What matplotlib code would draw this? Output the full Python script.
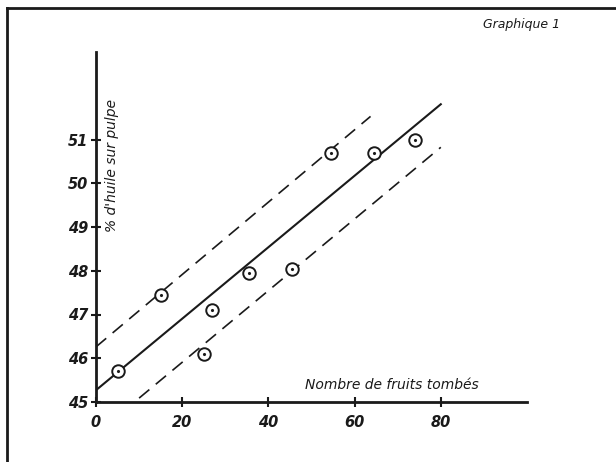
import matplotlib.pyplot as plt
from matplotlib.lines import Line2D

# observations: fallen fruits vs % oil in pulp
fruits = [5, 15, 25, 27, 35.5, 45.5, 54.5, 64.5, 74]
oil = [45.7, 47.45, 46.1, 47.1, 47.95, 48.05, 50.7, 50.7, 51.0]

# fitted line and band: (intercept, slope, x start, x end)
fit = [45.27, 0.0817, 0, 80]
upper = [46.26, 0.0827, 0, 63.7]
lower = [44.27, 0.0819, 10, 80]

xticks = [0, 20, 40, 60, 80]
yticks = [45, 46, 47, 48, 49, 50, 51]

ink = "#1a1a1a"
fig = plt.figure(figsize=(6.16, 4.62), dpi=100)
ax = fig.add_axes([96 / 616, 60 / 462, 431 / 616, 350 / 462])
ax.set_xlim(0, 100)
ax.set_ylim(45, 53)

def seg(p, **kw):
    a, b, x0, x1 = p
    ax.plot([x0, x1], [a + b * x0, a + b * x1], color=ink, **kw)

seg(fit, lw=1.5)
seg(upper, lw=1.2, ls=(0, (8, 5)))
seg(lower, lw=1.2, ls=(0, (8, 5)))

ax.plot(fruits, oil, "o", ms=9, mfc="white", mec=ink, mew=1.4, zorder=3)
ax.plot(fruits, oil, ".", ms=2.5, color=ink, zorder=4)

for s in ["top", "right"]:
    ax.spines[s].set_visible(False)
for s in ["left", "bottom"]:
    ax.spines[s].set_linewidth(2)
    ax.spines[s].set_color(ink)

ax.set_xticks(xticks)
ax.set_yticks(yticks)
ax.tick_params(direction="inout", length=7, width=1.5, color=ink)
ax.tick_params(axis="x", pad=6)
ax.tick_params(axis="y", pad=2)
for lab in ax.get_xticklabels() + ax.get_yticklabels():
    lab.set_fontstyle("italic")
    lab.set_fontweight("bold")
    lab.set_fontsize(10.5)
    lab.set_color(ink)

ax.text(48.5, 45.22, "Nombre de fruits tombés", style="italic", fontsize=10,
        color=ink, ha="left", va="bottom")
ax.text(3.6, 50.4, "% d'huile sur pulpe", style="italic", fontsize=10,
        color=ink, rotation=90, ha="center", va="center")
fig.text(0.847, 0.946, "Graphique 1", style="italic", fontsize=9,
         color=ink, ha="center", va="center")

# page frame
fig.add_artist(Line2D([7 / 616, 1], [1 - 8 / 462, 1 - 8 / 462],
                      transform=fig.transFigure, color=ink, lw=2))
fig.add_artist(Line2D([7 / 616, 7 / 616], [0, 1 - 8 / 462],
                      transform=fig.transFigure, color=ink, lw=2))

fig.savefig("out.png", dpi=100)
